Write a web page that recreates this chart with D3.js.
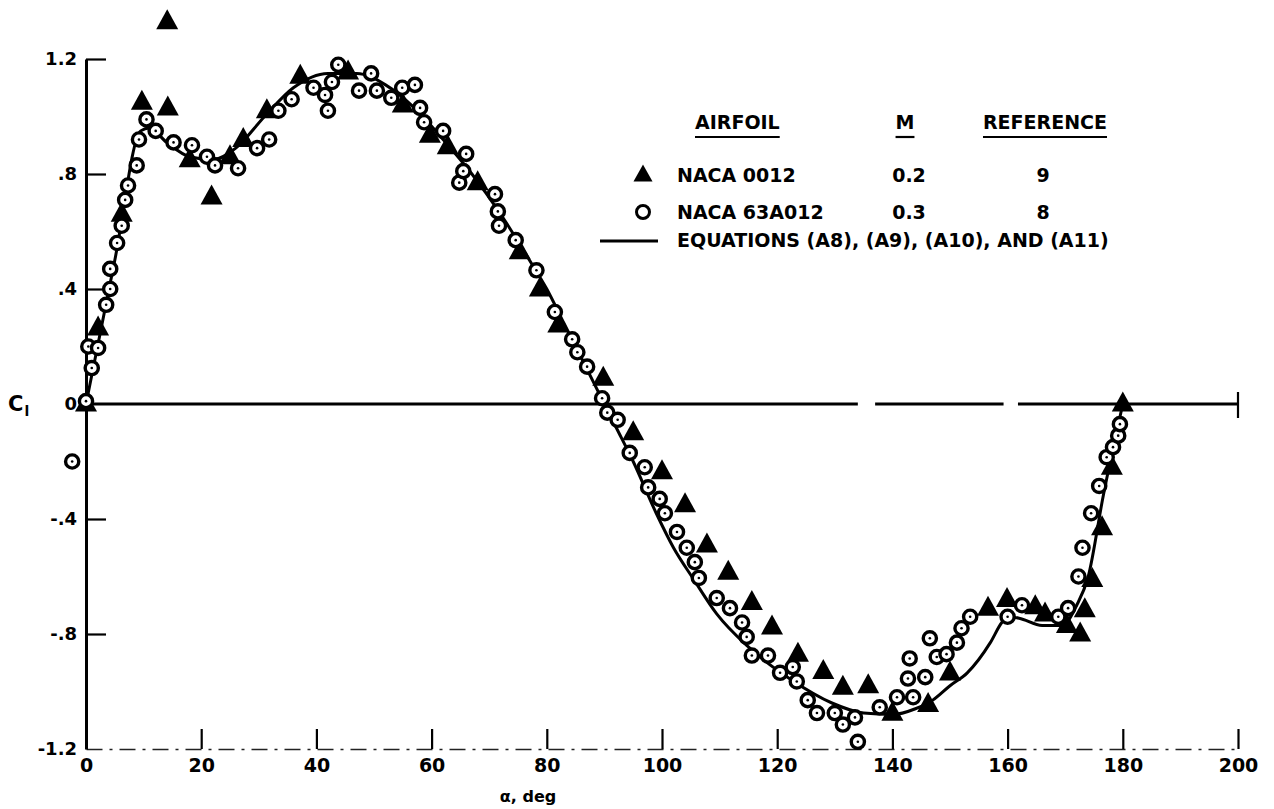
<!DOCTYPE html>
<html>
<head>
<meta charset="utf-8">
<script src="https://cdn.jsdelivr.net/npm/d3@7"></script>
<style>
  html, body { margin: 0; padding: 0; background: #fff; }
  svg { display: block; }
  text { font-family: "DejaVu Sans", sans-serif; font-weight: bold; fill: #000; }
</style>
</head>
<body>
<svg id="chart" width="1274" height="809"></svg>
<script>
// NACA 0012, M = 0.2 (angle of attack in deg, lift coefficient)
const naca0012Alpha = [0, 2.1, 6.2, 9.7, 14.1, 14.2, 18, 21.8, 25, 27.3, 31.4, 37.2, 45.5, 55, 59.7, 62.8, 68, 75.3, 78.8, 82, 89.8,
  95, 100, 104, 107.8, 111.5, 115.6, 119.1, 123.6, 128, 131.4, 135.8, 140, 146.2, 150, 156.6, 159.9, 164.8, 166.5, 170.3,
  172.6, 173.4, 174.7, 176.4, 178.1, 180];
const naca0012Cl = [0, 0.265, 0.66, 1.05, 1.33, 1.03, 0.85, 0.72, 0.86, 0.92, 1.02, 1.14, 1.155, 1.04, 0.935, 0.895, 0.77, 0.53, 0.40, 0.275, 0.09,
  -0.10, -0.235, -0.35, -0.49, -0.585, -0.69, -0.775, -0.87, -0.93, -0.985, -0.98, -1.075, -1.045, -0.935, -0.71, -0.68, -0.705, -0.73, -0.77,
  -0.80, -0.715, -0.61, -0.43, -0.22, 0];

// NACA 63A012, M = 0.3
const naca63A012Alpha = [-2.4, 0, 1.0, 0.4, 2.1, 3.5, 4.2, 4.2, 5.4, 6.2, 6.8, 7.3, 8.8, 9.2, 10.5, 12.1, 15.2, 18.4, 21, 22.4,
  26.4, 29.7, 31.8, 33.4, 35.7, 39.5, 41.5, 42, 42.7, 43.8, 47.4, 49.5, 50.5, 53, 54.9, 57.1, 58, 58.7, 62, 64.8,
  65.5, 66, 71, 71.5, 71.7, 74.6, 78.2, 81.4, 84.4, 85.3, 87, 89.6, 90.5, 92.3, 94.4, 97, 97.6, 99.6, 100.5, 102.6,
  104.3, 105.7, 106.4, 109.5, 111.8, 113.9, 114.7, 115.6, 118.4, 120.5, 122.7, 123.4, 125.3, 126.9, 130, 131.4, 133.5, 134, 137.8, 140.8,
  142.7, 143, 143.6, 145.7, 146.5, 147.7, 149.4, 151.2, 152, 153.5, 160, 162.5, 168.8, 170.5, 172.3, 173, 174.5, 175.9, 177.2, 178.3,
  179.2, 179.5];
const naca63A012Cl = [-0.20, 0.01, 0.125, 0.20, 0.195, 0.345, 0.40, 0.47, 0.56, 0.62, 0.71, 0.76, 0.83, 0.92, 0.99, 0.95, 0.91, 0.90, 0.86, 0.83,
  0.82, 0.89, 0.92, 1.02, 1.06, 1.10, 1.075, 1.02, 1.12, 1.18, 1.09, 1.15, 1.09, 1.065, 1.10, 1.11, 1.03, 0.98, 0.95, 0.77,
  0.81, 0.87, 0.73, 0.67, 0.62, 0.57, 0.465, 0.32, 0.225, 0.18, 0.13, 0.02, -0.03, -0.055, -0.17, -0.22, -0.29, -0.33, -0.38, -0.445,
  -0.50, -0.55, -0.605, -0.675, -0.71, -0.76, -0.81, -0.875, -0.875, -0.935, -0.915, -0.965, -1.03, -1.075, -1.075, -1.115, -1.09, -1.175, -1.055, -1.02,
  -0.955, -0.885, -1.02, -0.95, -0.815, -0.88, -0.87, -0.83, -0.78, -0.74, -0.74, -0.70, -0.74, -0.71, -0.60, -0.50, -0.38, -0.285, -0.185, -0.15,
  -0.11, -0.07];

// Equations (A8)-(A11)
const eqAlpha = [0, 5, 9.5, 11, 14, 18, 22, 26, 31, 36, 42, 47, 52, 57, 62, 67, 72, 77, 80, 83, 86, 90,
  92, 95, 99, 102, 105.5, 109.5, 115, 122.5, 129.5, 135, 140, 144, 147, 150, 153, 157, 159, 160, 162, 166, 169.5,
  172, 174, 176.6, 180];
const eqCl = [0, 0.5, 0.95, 0.96, 0.91, 0.86, 0.85, 0.89, 1.0, 1.1, 1.15, 1.15, 1.11, 1.03, 0.92, 0.8, 0.66, 0.5, 0.4, 0.28, 0.16, 0,
  -0.08, -0.2, -0.38, -0.5, -0.61, -0.73, -0.845, -0.96, -1.04, -1.075, -1.08, -1.06, -1.03, -0.98, -0.935, -0.83, -0.76, -0.74, -0.745, -0.77, -0.77,
  -0.70, -0.60, -0.32, 0];

const xTicks = [0, 20, 40, 60, 80, 100, 120, 140, 160, 180, 200];
const yTicks = [1.2, 0.8, 0.4, 0, -0.4, -0.8, -1.2];
const yTickLabels = ["1.2", ".8", ".4", "0", "-.4", "-.8", "-1.2"];

const legendRows = [
  { symbol: "triangle", airfoil: "NACA 0012", mach: "0.2", ref: "9" },
  { symbol: "circle", airfoil: "NACA 63A012", mach: "0.3", ref: "8" },
  { symbol: "line", airfoil: "EQUATIONS (A8), (A9), (A10), AND (A11)", mach: "", ref: "" }
];

const svg = d3.select("#chart");
const x = d3.scaleLinear().domain([0, 200]).range([86, 1238]);
const y = d3.scaleLinear().domain([-1.2, 1.2]).range([749, 59]);

const tri = (w, h) => `M0,${-h * 0.62}L${w / 2},${h * 0.38}L${-w / 2},${h * 0.38}Z`;

// bottom axis: broken baseline with upward ticks
const xAxis = svg.append("g")
  .attr("transform", `translate(0,${y(-1.2)})`)
  .call(d3.axisBottom(x).tickValues(xTicks).tickSizeInner(-20).tickSizeOuter(0).tickPadding(10).tickFormat(d3.format("d")));
xAxis.select(".domain").attr("stroke", "#222").attr("stroke-width", 1.6).attr("stroke-dasharray", "16,7,3,7");
xAxis.selectAll(".tick line").attr("stroke", "#000").attr("stroke-width", 2.2);
xAxis.selectAll(".tick").filter(d => d === 0).select("line").remove();
xAxis.selectAll(".tick text").attr("font-size", 19).attr("font-family", "DejaVu Sans").attr("font-weight", "bold");

// left axis: solid spine with inward ticks
const yAxisTicks = svg.append("g")
  .attr("transform", `translate(${x(0)},0)`)
  .call(d3.axisRight(y).tickValues([1.2, 0.8, 0.4, -0.4, -0.8]).tickSizeInner(20).tickSizeOuter(0).tickFormat(""));
yAxisTicks.select(".domain").attr("stroke", "#000").attr("stroke-width", 3);
yAxisTicks.selectAll(".tick line").attr("stroke", "#000").attr("stroke-width", 2.2);

const yAxisLabels = svg.append("g")
  .attr("transform", `translate(${x(0)},0)`)
  .call(d3.axisLeft(y).tickValues(yTicks).tickSize(0).tickPadding(9).tickFormat((d, i) => yTickLabels[i]));
yAxisLabels.select(".domain").remove();
yAxisLabels.selectAll(".tick text").attr("font-size", 18).attr("font-family", "DejaVu Sans").attr("font-weight", "bold");

// zero line with end tick
const zeroSegments = [[0, 134], [137, 159.3], [161.8, 200]];
svg.append("g").selectAll("line").data(zeroSegments).join("line")
  .attr("x1", d => x(d[0])).attr("x2", d => x(d[1]))
  .attr("y1", y(0)).attr("y2", y(0))
  .attr("stroke", "#000").attr("stroke-width", 3);
svg.append("line")
  .attr("x1", x(200)).attr("x2", x(200))
  .attr("y1", y(0) - 12).attr("y2", y(0) + 14)
  .attr("stroke", "#000").attr("stroke-width", 2.2);

// axis titles
const yt = svg.append("text").attr("x", 8).attr("y", 411).attr("font-size", 21);
yt.append("tspan").text("C");
yt.append("tspan").attr("font-size", 14).attr("dy", 5).attr("dx", 1).text("l");
svg.append("text").attr("x", 528).attr("y", 802).attr("text-anchor", "middle")
  .attr("font-size", 16).text("α, deg");

// equation curve
const eqData = eqAlpha.map((a, i) => [a, eqCl[i]]);
svg.append("path")
  .datum(eqData)
  .attr("fill", "none")
  .attr("stroke", "#000")
  .attr("stroke-width", 3)
  .attr("d", d3.line().x(d => x(d[0])).y(d => y(d[1])).curve(d3.curveMonotoneX));

// NACA 0012 triangles
svg.append("g").selectAll("path")
  .data(naca0012Alpha.map((a, i) => [a, naca0012Cl[i]]))
  .join("path")
  .attr("transform", d => `translate(${x(d[0])},${y(d[1])})`)
  .attr("d", tri(22, 20))
  .attr("fill", "#000");

// NACA 63A012 circles
const circ = svg.append("g").selectAll("g")
  .data(naca63A012Alpha.map((a, i) => [a, naca63A012Cl[i]]))
  .join("g")
  .attr("transform", d => `translate(${x(d[0])},${y(d[1])})`);
circ.append("circle").attr("r", 6.6).attr("fill", "#fff").attr("stroke", "#000").attr("stroke-width", 3.4);
circ.append("circle").attr("r", 1.3).attr("fill", "#000");

// legend
const lg = svg.append("g");
const headers = [
  { label: "AIRFOIL", x: 695, anchor: "start" },
  { label: "M", x: 905, anchor: "middle" },
  { label: "REFERENCE", x: 1045, anchor: "middle" }
];
headers.forEach(h => {
  const t = lg.append("text").attr("x", h.x).attr("y", 129).attr("text-anchor", h.anchor)
    .attr("font-size", 19).text(h.label);
  const bb = t.node().getBBox();
  lg.append("line").attr("x1", bb.x).attr("x2", bb.x + bb.width)
    .attr("y1", 137).attr("y2", 137).attr("stroke", "#000").attr("stroke-width", 2.2);
});
const rowY = [182, 219, 247];
legendRows.forEach((r, i) => {
  const yy = rowY[i];
  if (r.symbol === "triangle") {
    lg.append("path").attr("transform", `translate(643,${yy - 7})`).attr("d", tri(19, 17)).attr("fill", "#000");
  } else if (r.symbol === "circle") {
    lg.append("circle").attr("cx", 643).attr("cy", yy - 7).attr("r", 6.5)
      .attr("fill", "#fff").attr("stroke", "#000").attr("stroke-width", 3);
  } else {
    lg.append("line").attr("x1", 600).attr("x2", 658).attr("y1", yy - 6).attr("y2", yy - 6)
      .attr("stroke", "#000").attr("stroke-width", 3);
  }
  lg.append("text").attr("x", 677).attr("y", yy).attr("font-size", 19).text(r.airfoil);
  if (r.mach) lg.append("text").attr("x", 909).attr("y", yy).attr("text-anchor", "middle").attr("font-size", 19).text(r.mach);
  if (r.ref) lg.append("text").attr("x", 1043).attr("y", yy).attr("text-anchor", "middle").attr("font-size", 19).text(r.ref);
});
</script>
</body>
</html>
